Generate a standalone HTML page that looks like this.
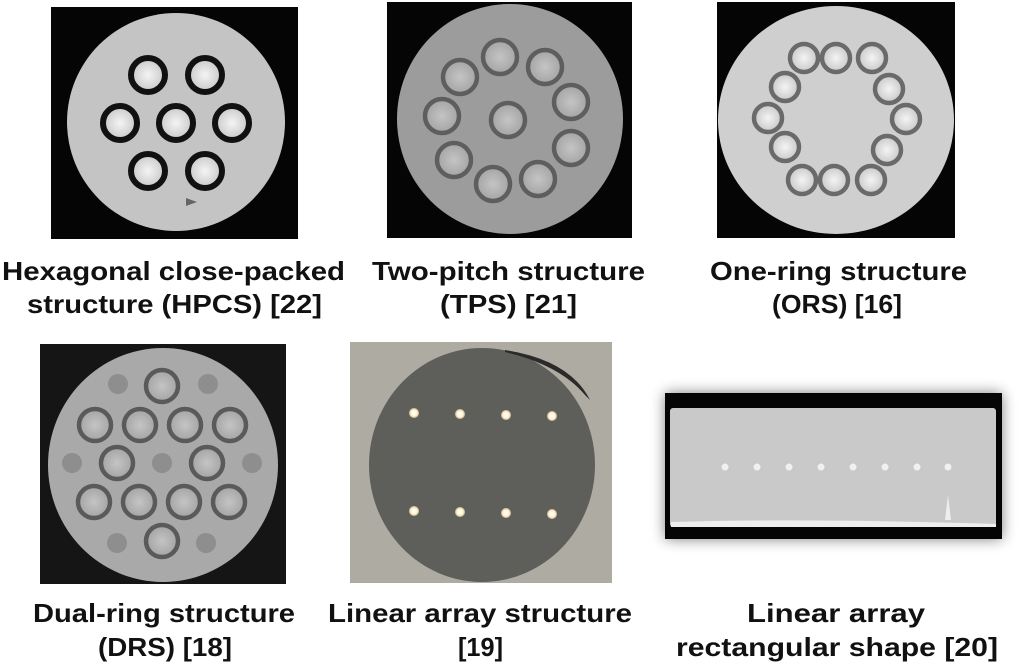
<!DOCTYPE html>
<html><head><meta charset="utf-8"><style>
html,body{margin:0;padding:0;background:#fff;}
svg{display:block;}
text{font-family:"Liberation Sans",Arial,sans-serif;font-weight:bold;font-size:26px;fill:#111;text-anchor:start;}
</style></head><body>
<svg width="1025" height="667" viewBox="0 0 1025 667">
<defs>
<radialGradient id="core" cx="0.5" cy="0.5" r="0.5"><stop offset="0" stop-color="#f4f4f4"/><stop offset="1" stop-color="#c8c8c8"/></radialGradient>
<radialGradient id="core2" cx="0.5" cy="0.5" r="0.5"><stop offset="0" stop-color="#c4c4c4"/><stop offset="1" stop-color="#a4a4a4"/></radialGradient>
<radialGradient id="dot" cx="0.5" cy="0.5" r="0.5"><stop offset="0" stop-color="#ffffff"/><stop offset="0.6" stop-color="#fff6d8"/><stop offset="1" stop-color="#c9b48a"/></radialGradient>
<filter id="blur" x="-10%" y="-30%" width="120%" height="160%"><feGaussianBlur stdDeviation="7"/></filter>
</defs>

<!-- Panel 1 HPCS -->
<g>
<rect x="51" y="7" width="247" height="232" fill="#050505"/>
<ellipse cx="176" cy="122" rx="109" ry="109" fill="#c4c4c4"/>
<g id="p1"></g>
<polygon points="186,198 197,202 186,206" fill="#666"/>
</g>

<!-- Panel 2 TPS -->
<g>
<rect x="387" y="2" width="245" height="236" fill="#050505"/>
<ellipse cx="510" cy="119" rx="113" ry="115" fill="#9c9c9c"/>
<g id="p2"></g>
</g>

<!-- Panel 3 ORS -->
<g>
<rect x="717" y="2" width="238" height="236" fill="#050505"/>
<ellipse cx="836" cy="120" rx="118" ry="114" fill="#cfcfcf"/>
<g id="p3"></g>
</g>

<!-- Panel 4 DRS -->
<g>
<rect x="40" y="344" width="246" height="240" fill="#151515"/>
<ellipse cx="163" cy="465" rx="115" ry="117" fill="#a9a9a9"/>
<g id="p4"></g>
</g>

<!-- Panel 5 linear array -->
<g>
<rect x="350" y="342" width="262" height="241" fill="#aeaba2"/>
<ellipse cx="482" cy="465" rx="113" ry="117" fill="#5e5f5a"/>
<path d="M505,350 Q570,360 590,400 L585,395 Q560,365 505,352Z" fill="#2a2a2a"/>
<g id="p5"></g>
</g>

<!-- Panel 6 rectangular -->
<g>
<rect x="665" y="393" width="337" height="146" fill="#000" opacity="0.5" filter="url(#blur)"/>
<rect x="665" y="393" width="337" height="146" fill="#050505"/>
<rect x="670" y="408" width="326" height="119" rx="3" fill="#c9c9c9"/>
<path d="M671,522 Q800,518 996,524 L996,527 L671,527Z" fill="#eee"/>
<path d="M945,520 L948,495 L951,520Z" fill="#eee"/>
<g id="p6"></g>
</g>

<!-- Captions -->
<text x="2" y="280" textLength="343" lengthAdjust="spacingAndGlyphs">Hexagonal close-packed</text>
<text x="27" y="313" textLength="295" lengthAdjust="spacingAndGlyphs">structure (HPCS) [22]</text>
<text x="372" y="280" textLength="273" lengthAdjust="spacingAndGlyphs">Two-pitch structure</text>
<text x="440" y="313" textLength="137" lengthAdjust="spacingAndGlyphs">(TPS) [21]</text>
<text x="710" y="280" textLength="257" lengthAdjust="spacingAndGlyphs">One-ring structure</text>
<text x="772" y="313" textLength="130" lengthAdjust="spacingAndGlyphs">(ORS) [16]</text>
<text x="33" y="622" textLength="262" lengthAdjust="spacingAndGlyphs">Dual-ring structure</text>
<text x="98" y="656" textLength="134" lengthAdjust="spacingAndGlyphs">(DRS) [18]</text>
<text x="328" y="622" textLength="304" lengthAdjust="spacingAndGlyphs">Linear array structure</text>
<text x="458" y="656" textLength="45" lengthAdjust="spacingAndGlyphs">[19]</text>
<text x="747" y="622" textLength="178" lengthAdjust="spacingAndGlyphs">Linear array</text>
<text x="676" y="656" textLength="322" lengthAdjust="spacingAndGlyphs">rectangular shape [20]</text>
</svg>
<script>
const NS='http://www.w3.org/2000/svg';
const p1Cores=[[148,75],[205,75],[120,123],[176,123],[232,123],[148,171],[205,171]];
const p2Cores=[[500,57],[545,67],[460,77],[571,102],[442,116],[508,120],[571,148],[454,160],[538,179],[493,184]];
const p3Cores=[[804,58],[836,58],[872,58],[785,87],[889,89],[768,118],[906,119],[785,147],[887,150],[802,180],[834,180],[871,180]];
const p4Cores=[[162,386],[95,425],[140,425],[185,425],[230,425],[117,463],[207,463],[94,502],[139,502],[184,502],[229,502],[162,541]];
const p4Blobs=[[118,384],[208,384],[72,463],[162,463],[252,463],[117,543],[206,543]];
const p5Dots=[[414,413],[460,414],[506,415],[552,416],[414,511],[460,512],[506,513],[552,514]];
const p6Dots=[725,757,789,821,853,885,917,948];
function c(parent,cx,cy,r,fill,stroke,sw){const e=document.createElementNS(NS,'circle');e.setAttribute('cx',cx);e.setAttribute('cy',cy);e.setAttribute('r',r);e.setAttribute('fill',fill);if(stroke){e.setAttribute('stroke',stroke);e.setAttribute('stroke-width',sw);}parent.appendChild(e);return e;}
function ring(id,list,r,sw,col,inner){const g=document.getElementById(id);list.forEach(p=>{
const e=c(g,p[0],p[1],r,inner,col,sw);


});}
ring('p1',p1Cores,17,6,'#111','url(#core)');
ring('p2',p2Cores,17,4.5,'#5e5e5e','url(#core2)');
ring('p3',p3Cores,14,4.5,'#6a6a6a','url(#core)');
ring('p4',p4Cores,16,4.5,'#5a5a5a','url(#core2)');
const g4=document.getElementById('p4');
p4Blobs.forEach(p=>{const e=c(g4,p[0],p[1],10,'#8e8e8e');


});
const g5=document.getElementById('p5');
p5Dots.forEach(p=>{const e=c(g5,p[0],p[1],5,'url(#dot)');


});
const g6=document.getElementById('p6');
p6Dots.forEach(x=>{const e=c(g6,x,467,3.5,'#f0f0f0');


});
</script>
</body></html>
